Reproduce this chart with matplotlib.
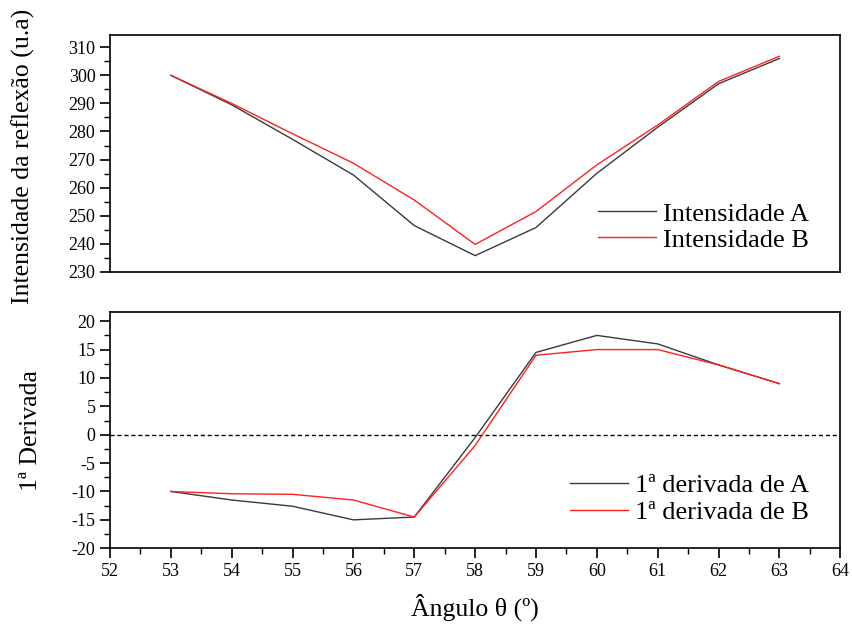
import matplotlib
matplotlib.use('Agg')
import matplotlib.pyplot as plt
from matplotlib.ticker import MultipleLocator

plt.rcParams['font.family'] = ['Liberation Serif', 'DejaVu Serif']
plt.rcParams['axes.unicode_minus'] = False

angulo = [53, 54, 55, 56, 57, 58, 59, 60, 61, 62, 63]
intens_a = [300, 289.5, 277.2, 264.5, 246.5, 235.8, 245.8, 265.1, 281.5, 297.0, 306.0]
intens_b = [300, 290.0, 279.2, 268.7, 255.6, 239.8, 251.5, 268.1, 282.3, 297.8, 306.8]
deriv_a = [-10, -11.5, -12.6, -15.0, -14.5, -0.5, 14.5, 17.5, 16.0, 12.3, 9.0]
deriv_b = [-10, -10.4, -10.5, -11.5, -14.5, -1.9, 14.0, 15.0, 15.0, 12.3, 9.0]

fig = plt.figure(figsize=(8.53, 6.28), dpi=100)
ax1 = fig.add_axes([0.129, 0.567, 0.856, 0.377])
ax2 = fig.add_axes([0.129, 0.127, 0.856, 0.376])

cinza = '#3a3a3a'
verm = '#ff2020'

ax1.plot(angulo, intens_a, color=cinza, lw=1.0, label='Intensidade A')
ax1.plot(angulo, intens_b, color=verm, lw=1.0, label='Intensidade B')
ax2.axhline(0, color='black', lw=1.0, ls=(0, (3, 2)))
ax2.plot(angulo, deriv_a, color=cinza, lw=1.0, label='1ª derivada de A')
ax2.plot(angulo, deriv_b, color=verm, lw=1.0, label='1ª derivada de B')

for ax in (ax1, ax2):
    ax.set_xlim(52, 64)
    for s in ax.spines.values():
        s.set_linewidth(1.2)
    ax.tick_params(which='major', direction='out', length=7, width=1.2, labelsize=13)
    ax.tick_params(which='minor', direction='out', length=4, width=1.0)
    ax.tick_params(top=False, right=False)

ax1.set_ylim(230, 314.3)
ax1.yaxis.set_major_locator(MultipleLocator(10))
ax1.yaxis.set_minor_locator(MultipleLocator(5))
ax1.tick_params(axis='x', which='both', bottom=False, labelbottom=False)

ax2.set_ylim(-20, 21.6)
ax2.yaxis.set_major_locator(MultipleLocator(5))
ax2.yaxis.set_minor_locator(MultipleLocator(2.5))
ax2.xaxis.set_major_locator(MultipleLocator(1))
ax2.xaxis.set_minor_locator(MultipleLocator(0.5))

ax1.set_ylabel('Intensidade da reflexão (u.a)', fontsize=18.5)
ax1.yaxis.set_label_coords(-0.103, 0.49)
ax2.set_ylabel('1ª Derivada', fontsize=18.5)
ax2.yaxis.set_label_coords(-0.093, 0.5)
ax2.set_xlabel('Ângulo θ (º)', fontsize=18.5, labelpad=10)

ax1.legend(loc='lower right', frameon=False, fontsize=19, handlelength=2.2,
           handletextpad=0.23, labelspacing=0.1, bbox_to_anchor=(0.989, -0.015))
ax2.legend(loc='lower right', frameon=False, fontsize=19, handlelength=2.2,
           handletextpad=0.23, labelspacing=0.15, bbox_to_anchor=(0.989, 0.0))

fig.savefig('out.png', dpi=100)
